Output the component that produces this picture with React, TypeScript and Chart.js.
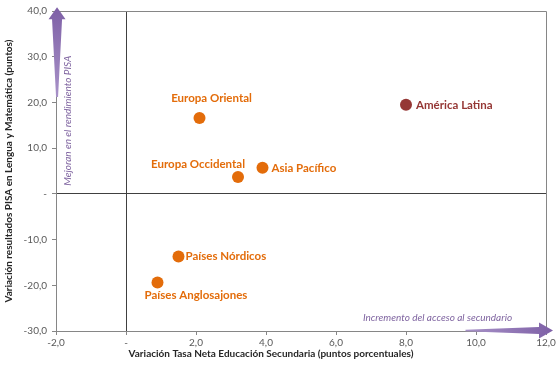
import React, { useEffect, useRef } from "react";
import { Chart, registerables } from "chart.js";

Chart.register(...registerables);

const regionNames = [
  "Europa Oriental",
  "Europa Occidental",
  "Asia Pacífico",
  "América Latina",
  "Países Nórdicos",
  "Países Anglosajones",
];
const xValues = [2.1, 3.2, 3.9, 8.0, 1.5, 0.9];
const yValues = [16.6, 3.7, 5.7, 19.5, -13.7, -19.4];
const pointColors = ["#E36C0A", "#E36C0A", "#E36C0A", "#953735", "#E36C0A", "#E36C0A"];

const xTitle = "Variación Tasa Neta Educación Secundaria (puntos porcentuales)";
const yTitle = "Variación resultados PISA en Lengua y Matemática (puntos)";
const upNote = "Mejoran en el rendimiento PISA";
const rightNote = "Incremento del acceso al secundario";

const FONT = "Lato, 'Open Sans', sans-serif";

// label placement (style only)
const labelPlacement: Record<string, { align: CanvasTextAlign; dx: number; dy: number }> = {
  "Europa Oriental": { align: "center", dx: 12, dy: -20 },
  "Europa Occidental": { align: "center", dx: -40, dy: -13 },
  "Asia Pacífico": { align: "left", dx: 9, dy: 0 },
  "América Latina": { align: "left", dx: 10, dy: 1 },
  "Países Nórdicos": { align: "left", dx: 7, dy: 0 },
  "Países Anglosajones": { align: "left", dx: -13, dy: 13 },
};

function fmt(v: number) {
  if (v === 0) return "-";
  return v.toFixed(1).replace(".", ",");
}

const decorPlugin = {
  id: "decor",
  afterDatasetsDraw(chart: any) {
    const ctx = chart.ctx as CanvasRenderingContext2D;
    const area = chart.chartArea;
    const xs = chart.scales.x;
    const ys = chart.scales.y;
    ctx.save();
    // top & right border
    ctx.strokeStyle = "#868686";
    ctx.lineWidth = 1;
    ctx.beginPath();
    ctx.moveTo(area.left, area.top + 0.5);
    ctx.lineTo(area.right + 0.5, area.top + 0.5);
    ctx.lineTo(area.right + 0.5, area.bottom);
    ctx.stroke();

    // point labels
    const meta = chart.getDatasetMeta(0);
    ctx.font = `bold 11.5px ${FONT}`;
    ctx.textBaseline = "middle";
    meta.data.forEach((el: any, i: number) => {
      const name = regionNames[i];
      const p = labelPlacement[name];
      ctx.fillStyle = pointColors[i];
      ctx.textAlign = p.align;
      ctx.fillText(name, el.x + p.dx, el.y + p.dy);
    });

    // arrows
    const purple = "#7E60A6";
    // vertical arrow
    const vx = xs.getPixelForValue(-1.97);
    const vTail = ys.getPixelForValue(21.2);
    const vTip = ys.getPixelForValue(40.8);
    const vHeadBase = vTip + 12;
    let g = ctx.createLinearGradient(0, vTail, 0, vTip);
    g.addColorStop(0, "#A892C8");
    g.addColorStop(1, purple);
    ctx.fillStyle = g;
    ctx.beginPath();
    ctx.moveTo(vx - 1, vTail);
    ctx.lineTo(vx - 5, vHeadBase);
    ctx.lineTo(vx - 8.5, vHeadBase);
    ctx.lineTo(vx, vTip);
    ctx.lineTo(vx + 8.5, vHeadBase);
    ctx.lineTo(vx + 5, vHeadBase);
    ctx.lineTo(vx + 1, vTail);
    ctx.closePath();
    ctx.fill();

    // horizontal arrow
    const hy = ys.getPixelForValue(-29.9);
    const hTail = xs.getPixelForValue(9.7);
    const hTip = xs.getPixelForValue(12.2);
    const hHeadBase = hTip - 14;
    g = ctx.createLinearGradient(hTail, 0, hTip, 0);
    g.addColorStop(0, "#A892C8");
    g.addColorStop(1, purple);
    ctx.fillStyle = g;
    ctx.beginPath();
    ctx.moveTo(hTail, hy - 0.7);
    ctx.lineTo(hHeadBase, hy - 3.5);
    ctx.lineTo(hHeadBase, hy - 8);
    ctx.lineTo(hTip, hy);
    ctx.lineTo(hHeadBase, hy + 8);
    ctx.lineTo(hHeadBase, hy + 3.5);
    ctx.lineTo(hTail, hy + 0.7);
    ctx.closePath();
    ctx.fill();

    // notes
    ctx.fillStyle = "#7F64A0";
    ctx.font = `italic 10px ${FONT}`;
    ctx.textAlign = "center";
    ctx.textBaseline = "middle";
    ctx.save();
    ctx.translate(xs.getPixelForValue(-1.66), ys.getPixelForValue(16));
    ctx.rotate(-Math.PI / 2);
    ctx.fillText(upNote, 0, 0);
    ctx.restore();
    ctx.fillText(rightNote, xs.getPixelForValue(8.9), ys.getPixelForValue(-27.2));

    // axis titles
    ctx.fillStyle = "#262626";
    ctx.font = `bold 10px ${FONT}`;
    ctx.fillText(xTitle, 271, 354);
    ctx.save();
    ctx.translate(9, (area.top + area.bottom) / 2);
    ctx.rotate(-Math.PI / 2);
    ctx.fillText(yTitle, 0, 0);
    ctx.restore();
    ctx.restore();
  },
};

export default function App() {
  const ref = useRef<HTMLCanvasElement | null>(null);
  useEffect(() => {
    document.body.style.margin = "0";
    if (!ref.current) return;
    const zeroColor = (c: any) =>
      c.tick && c.tick.value === 0 ? "#404040" : "rgba(0,0,0,0)";
    const chart = new Chart(ref.current, {
      type: "scatter",
      data: {
        datasets: [
          {
            data: xValues.map((x, i) => ({ x, y: yValues[i] })),
            pointBackgroundColor: pointColors,
            pointBorderColor: pointColors,
            pointRadius: 6,
            pointHoverRadius: 6,
            borderWidth: 0,
          },
        ],
      },
      options: {
        responsive: false,
        animation: false,
        layout: { padding: { top: 7, right: 14, left: 0, bottom: 0 } },
        plugins: {
          legend: { display: false },
          tooltip: { enabled: false },
        },
        scales: {
          x: {
            type: "linear",
            min: -2,
            max: 12,
            ticks: {
              stepSize: 2,
              callback: (v: any) => fmt(Number(v)),
              color: "#595959",
              font: { family: FONT, size: 10 },
              padding: 2,
              maxRotation: 0,
            },
            grid: {
              drawOnChartArea: true,
              color: zeroColor,
              tickColor: "#868686",
              tickLength: 4,
            },
            border: { display: true, color: "#868686" },
            afterFit: (s: any) => {
              s.height = 38;
            },
          },
          y: {
            type: "linear",
            min: -30,
            max: 40,
            ticks: {
              stepSize: 10,
              callback: (v: any) => fmt(Number(v)),
              color: "#595959",
              font: { family: FONT, size: 10 },
              padding: 5,
            },
            grid: {
              drawOnChartArea: true,
              color: zeroColor,
              tickColor: "#868686",
              tickLength: 4,
            },
            border: { display: true, color: "#868686" },
            afterFit: (s: any) => {
              s.width = 56;
            },
          },
        },
      },
      plugins: [decorPlugin],
    });
    return () => chart.destroy();
  }, []);
  return (
    <div style={{ width: 560, height: 369 }}>
      <canvas ref={ref} width={560} height={369} />
    </div>
  );
}
